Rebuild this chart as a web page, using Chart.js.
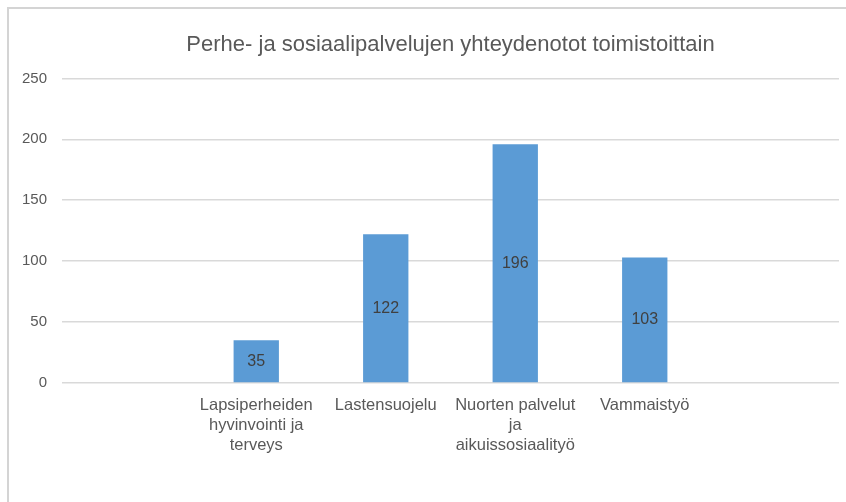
<!DOCTYPE html>
<html>
<head>
<meta charset="utf-8">
<script src="https://cdn.jsdelivr.net/npm/chart.js@4/dist/chart.umd.min.js"></script>
<style>
  html, body { margin: 0; padding: 0; background: #fff; }
  #wrap { position: relative; width: 846px; height: 502px; }
  #frame { position: absolute; left: 7px; top: 7px; right: -2px; bottom: -2px; border-left: 2px solid #d4d4d4; border-top: 2px solid #d4d4d4; pointer-events: none; }
  canvas { display: block; }
</style>
</head>
<body>
<div id="wrap">
  <canvas id="c" width="846" height="502"></canvas>
  <div id="frame"></div>
</div>
<script>
const titleText = "Perhe- ja sosiaalipalvelujen yhteydenotot toimistoittain";
const categories = [
  "",
  ["Lapsiperheiden", "hyvinvointi ja", "terveys"],
  ["Lastensuojelu"],
  ["Nuorten palvelut", "ja", "aikuissosiaalityö"],
  ["Vammaistyö"],
  ""
];
const values = [null, 35, 122, 196, 103, null];
const yTicks = [0, 50, 100, 150, 200, 250];

const labelPlugin = {
  id: 'barLabels',
  afterDatasetsDraw(chart) {
    const ctx = chart.ctx;
    const meta = chart.getDatasetMeta(0);
    ctx.save();
    ctx.font = '16px "Liberation Sans", Arial, sans-serif';
    ctx.fillStyle = '#404040';
    ctx.textAlign = 'center';
    ctx.textBaseline = 'middle';
    meta.data.forEach((bar, i) => {
      const v = values[i];
      if (v === null) return;
      const yMid = (bar.y + bar.base) / 2;
      ctx.fillText(String(v), bar.x, yMid);
    });
    ctx.restore();
  }
};

new Chart(document.getElementById('c'), {
  type: 'bar',
  data: {
    labels: categories,
    datasets: [{
      data: values,
      backgroundColor: '#5b9bd5',
      borderWidth: 0,
      categoryPercentage: 1.0,
      barPercentage: 0.35
    }]
  },
  options: {
    responsive: false,
    animation: false,
    layout: { padding: { left: 0, right: 7, top: 0, bottom: 0 } },
    plugins: {
      legend: { display: false },
      tooltip: { enabled: false },
      title: {
        display: true,
        fullSize: false,
        text: titleText,
        color: '#595959',
        font: { family: '"Liberation Sans", Arial, sans-serif', size: 22, weight: 'normal', lineHeight: 1.2 },
        padding: { top: 32, bottom: 20 }
      }
    },
    scales: {
      x: {
        grid: { display: false, drawTicks: false },
        border: { display: false },
        ticks: {
          color: '#595959',
          font: { family: '"Liberation Sans", Arial, sans-serif', size: 16.5, lineHeight: '20px' },
          padding: 12,
          maxRotation: 0,
          autoSkip: false
        },
        afterFit(s) { s.height = 119; }
      },
      y: {
        min: 0,
        max: 250,
        grid: { color: '#d9d9d9', lineWidth: 1.5, drawTicks: false },
        border: { display: false },
        afterBuildTicks(s) { s.ticks = yTicks.map(v => ({ value: v })); },
        ticks: {
          color: '#595959',
          font: { family: '"Liberation Sans", Arial, sans-serif', size: 15 },
          padding: 15
        },
        afterFit(s) { s.width = 62; }
      }
    }
  },
  plugins: [labelPlugin]
});
</script>
</body>
</html>
